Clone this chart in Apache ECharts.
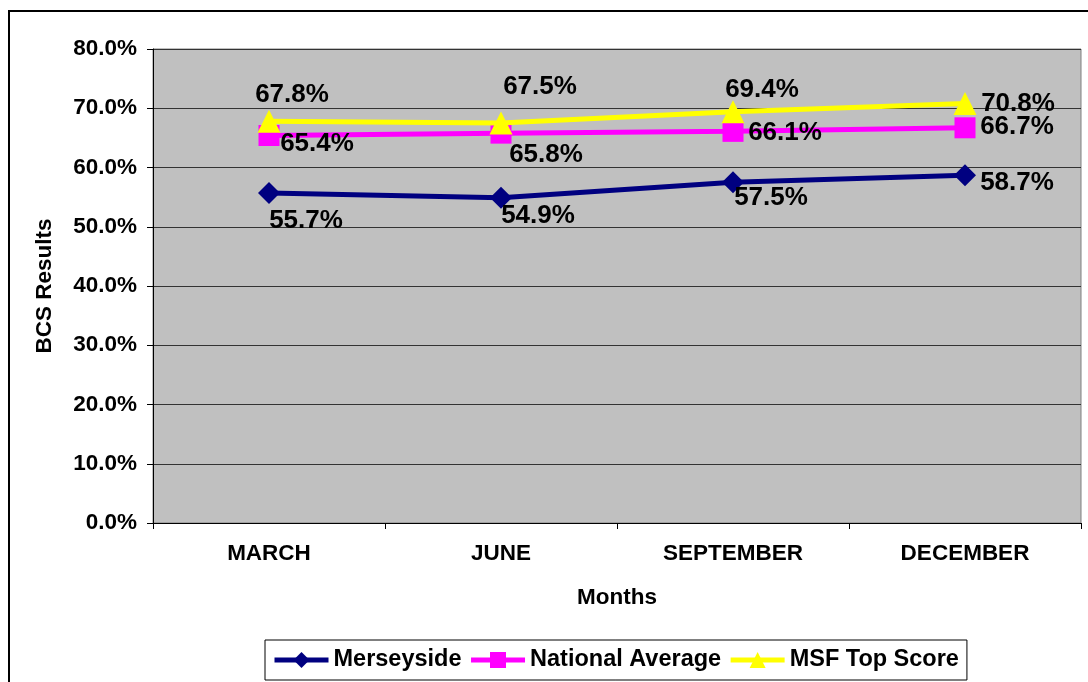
<!DOCTYPE html>
<html>
<head>
<meta charset="utf-8">
<script src="https://cdn.jsdelivr.net/npm/echarts@6/dist/echarts.min.js"></script>
<style>
html,body{margin:0;padding:0;background:#fff;}
#chart{width:1088px;height:682px;}
</style>
</head>
<body>
<div id="chart"></div>
<script>
// ---- data ----
var months = ['MARCH', 'JUNE', 'SEPTEMBER', 'DECEMBER'];
var merseyside = [55.7, 54.9, 57.5, 58.7];
var nationalAverage = [65.4, 65.8, 66.1, 66.7];
var msfTopScore = [67.8, 67.5, 69.4, 70.8];
var yTicks = [0, 10, 20, 30, 40, 50, 60, 70, 80];

// ---- label placement (layout only) ----
var merseyOffsets = [[37, 28], [37, 18], [38, 16], [52, 8]];
var nationalOffsets = [[48, 8], [45, 22], [52, 1], [52, -1]];
var msfOffsets = [[23, -26], [39, -36], [29, -22], [53, 0]];

var FONT = '"Liberation Sans", Arial, sans-serif';

function withLabels(values, offsets) {
  return values.map(function (v, i) {
    return { value: v, label: { offset: offsets[i] } };
  });
}

var chart = echarts.init(document.getElementById('chart'), null, { renderer: 'canvas' });

var labelStyle = {
  show: true,
  position: 'inside',
  fontSize: 26,
  fontWeight: 'bold',
  fontFamily: FONT,
  color: '#000',
  formatter: function (p) { return p.value.toFixed(1) + '%'; }
};

var axisFont = { fontSize: 22.5, fontWeight: 'bold', fontFamily: FONT, color: '#000' };

var option = {
  animation: false,
  backgroundColor: '#fff',
  textStyle: { fontFamily: FONT },
  graphic: [{
    type: 'rect',
    z: -10,
    shape: { x: 9, y: 11, width: 1100, height: 700 },
    style: { fill: 'none', stroke: '#000', lineWidth: 2 }
  }],
  grid: {
    left: 153, right: 7, top: 49, bottom: 159,
    show: true,
    backgroundColor: '#c0c0c0',
    borderColor: '#808080',
    borderWidth: 1
  },
  legend: {
    left: 265,
    top: 640,
    orient: 'horizontal',
    backgroundColor: '#fff',
    borderColor: '#000',
    borderWidth: 1,
    padding: [8, 8, 8, 7],
    itemGap: 7,
    itemWidth: 54,
    itemHeight: 20,
    lineStyle: { width: 5 },
    textStyle: { fontSize: 23.5, fontWeight: 'bold', fontFamily: FONT, color: '#000' },
    data: ['Merseyside', 'National Average', 'MSF Top Score']
  },
  xAxis: {
    type: 'category',
    data: months,
    boundaryGap: true,
    name: 'Months',
    nameLocation: 'middle',
    nameGap: 63,
    nameTextStyle: axisFont,
    axisLine: { show: true, lineStyle: { color: '#000', width: 1 } },
    axisTick: { show: true, length: 6, inside: false, alignWithLabel: false, lineStyle: { color: '#000' } },
    axisLabel: Object.assign({ margin: 19, interval: 0 }, axisFont),
    splitLine: { show: false }
  },
  yAxis: {
    type: 'value',
    min: yTicks[0],
    max: yTicks[yTicks.length - 1],
    interval: yTicks[1] - yTicks[0],
    name: 'BCS Results',
    nameLocation: 'middle',
    nameGap: 97,
    nameTextStyle: axisFont,
    axisLine: { show: true, lineStyle: { color: '#000', width: 1 } },
    axisTick: { show: true, length: 6, inside: false, lineStyle: { color: '#000' } },
    axisLabel: Object.assign({
      margin: 16,
      formatter: function (v) { return v.toFixed(1) + '%'; }
    }, axisFont),
    splitLine: { show: true, lineStyle: { color: '#333', width: 1.2 } }
  },
  series: [
    {
      name: 'Merseyside',
      type: 'line',
      data: withLabels(merseyside, merseyOffsets),
      symbol: 'diamond',
      symbolSize: 22,
      lineStyle: { color: '#000080', width: 5 },
      itemStyle: { color: '#000080' },
      label: labelStyle,
      z: 2
    },
    {
      name: 'National Average',
      type: 'line',
      data: withLabels(nationalAverage, nationalOffsets),
      symbol: 'rect',
      symbolSize: 21,
      lineStyle: { color: '#ff00ff', width: 5 },
      itemStyle: { color: '#ff00ff' },
      label: labelStyle,
      z: 3
    },
    {
      name: 'MSF Top Score',
      type: 'line',
      data: withLabels(msfTopScore, msfOffsets),
      symbol: 'triangle',
      symbolSize: 23,
      lineStyle: { color: '#ffff00', width: 5 },
      itemStyle: { color: '#ffff00' },
      label: labelStyle,
      z: 4
    }
  ]
};

chart.setOption(option);
</script>
</body>
</html>
